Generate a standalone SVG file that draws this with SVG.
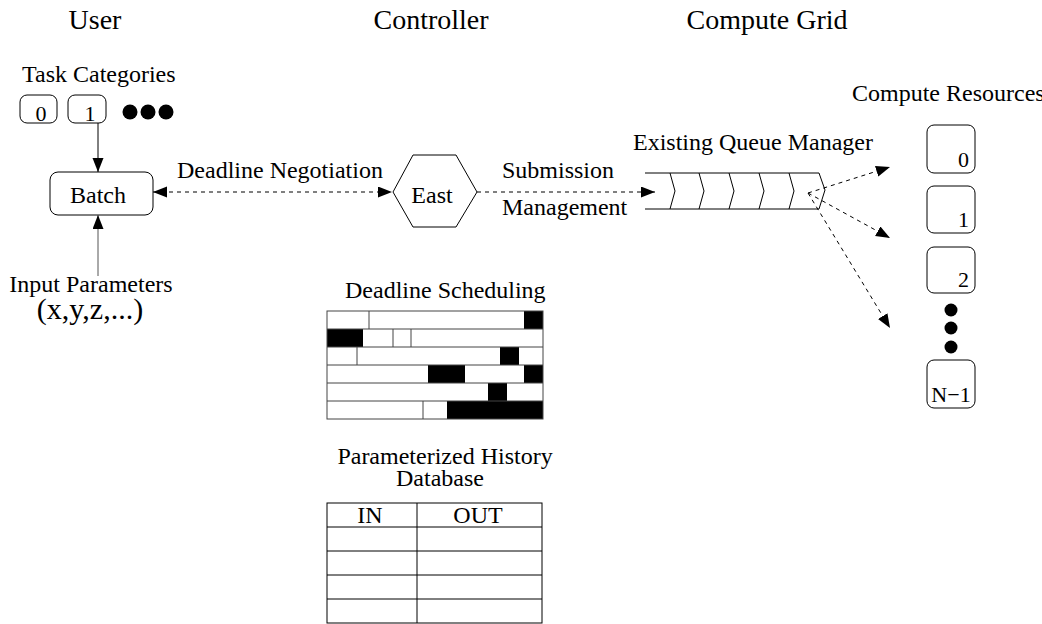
<svg xmlns="http://www.w3.org/2000/svg" width="1042" height="624" viewBox="0 0 1042 624">
<style>
text{font-family:"Liberation Serif","Times New Roman",serif;fill:#000}
.h{font-size:28px}
.t{font-size:24px}
.s{font-size:22px}
.box{fill:#fff;stroke:#000;stroke-width:1}
.ln{fill:none;stroke:#000;stroke-width:1}
.dash{fill:none;stroke:#000;stroke-width:1;stroke-dasharray:4 4}
.g{fill:none;stroke:#444;stroke-width:1}
.blk{fill:#000;stroke:none}
</style>
<defs>
<marker id="ah" markerUnits="userSpaceOnUse" markerWidth="15" markerHeight="12" refX="14" refY="5.5" orient="auto-start-reverse" viewBox="0 0 15 12">
<path d="M0,0 L14,5.5 L0,11 z" fill="#000" stroke="none"/>
</marker>
</defs>

<g id="headers">
<text class="h" x="95" y="29" text-anchor="middle">User</text>
<text class="h" x="431" y="29" text-anchor="middle">Controller</text>
<text class="h" x="767" y="29" text-anchor="middle">Compute Grid</text>
</g>

<g id="task-categories">
<text class="t" x="22" y="82">Task Categories</text>
<rect class="box" x="20" y="95" width="37" height="28" rx="7"/>
<text class="s" x="41" y="121" text-anchor="middle">0</text>
<rect class="box" x="68" y="95" width="38" height="28" rx="7"/>
<text class="s" x="90" y="121" text-anchor="middle">1</text>
<circle class="blk" cx="130" cy="112" r="7.5"/>
<circle class="blk" cx="148" cy="112" r="7.5"/>
<circle class="blk" cx="166" cy="112" r="7.5"/>
</g>

<g id="batch">
<rect class="box" x="50" y="172" width="103" height="43" rx="8"/>
<text class="t" x="98" y="203" text-anchor="middle">Batch</text>
</g>

<g id="input-parameters">
<text class="t" x="91" y="292" text-anchor="middle">Input Parameters</text>
<text x="90" y="319" text-anchor="middle" style="font-size:30px">(x,y,z,...)</text>
</g>

<g id="east">
<polygon class="box" points="393,192 413,155 456,155 477,192 456,227 413,227"/>
<text class="t" x="432" y="203" text-anchor="middle">East</text>
</g>

<g id="queue-manager">
<text class="t" x="633" y="150">Existing Queue Manager</text>
<path class="ln" d="M645,173 H819 L825,190 L819,209 H645"/>
<path class="ln" d="M670,173 L675,191 L670,209 M699,173 L704,191 L699,209 M729,173 L734,191 L729,209 M759,173 L764,191 L759,209 M789,173 L794,191 L789,209"/>
</g>

<g id="compute-resources">
<text class="t" x="852" y="101">Compute Resources</text>
<rect class="box" x="927" y="125" width="48" height="48" rx="7"/>
<text class="s" x="969" y="167" text-anchor="end">0</text>
<rect class="box" x="927" y="186" width="48" height="47" rx="7"/>
<text class="s" x="969" y="227" text-anchor="end">1</text>
<rect class="box" x="927" y="247" width="48" height="46" rx="7"/>
<text class="s" x="969" y="287" text-anchor="end">2</text>
<circle class="blk" cx="951" cy="310" r="6.5"/>
<circle class="blk" cx="951" cy="328" r="6.5"/>
<circle class="blk" cx="951" cy="347" r="6.5"/>
<rect class="box" x="927" y="360" width="48" height="48" rx="7"/>
<text class="s" x="951" y="402" text-anchor="middle">N−1</text>
</g>

<g id="deadline-scheduling">
<text class="t" x="345" y="298">Deadline Scheduling</text>
<rect class="blk" x="524" y="311" width="19" height="18"/>
<rect class="blk" x="327" y="329" width="36" height="18"/>
<rect class="blk" x="500" y="347" width="19" height="18"/>
<rect class="blk" x="428" y="365" width="37" height="18"/>
<rect class="blk" x="524" y="365" width="19" height="18"/>
<rect class="blk" x="488" y="383" width="19" height="18"/>
<rect class="blk" x="447" y="401" width="96" height="18"/>
<rect class="g" x="327" y="311" width="216" height="108"/>
<path class="g" d="M327,329 H543 M327,347 H543 M327,365 H543 M327,383 H543 M327,401 H543"/>
<path class="g" d="M369,311 V329 M393,329 V347 M411,329 V347 M357,347 V365 M423,401 V419"/>
</g>

<g id="history-database">
<text class="t" x="445" y="464" text-anchor="middle">Parameterized History</text>
<text class="t" x="440" y="486" text-anchor="middle">Database</text>
<rect class="ln" x="327" y="503" width="215" height="120"/>
<path class="ln" d="M327,527 H542 M327,551 H542 M327,575 H542 M327,599 H542 M417,503 V623"/>
<text class="t" x="370" y="523" text-anchor="middle">IN</text>
<text class="t" x="478" y="523" text-anchor="middle">OUT</text>
</g>

<g id="connectors">
<line class="ln" x1="98" y1="123" x2="98" y2="172" marker-end="url(#ah)"/>
<line class="ln" x1="98" y1="276" x2="98" y2="215" marker-end="url(#ah)" style="stroke:#555"/>
<line class="dash" x1="153" y1="192" x2="392" y2="192" marker-start="url(#ah)" marker-end="url(#ah)"/>
<text class="t" x="177" y="178">Deadline Negotiation</text>
<line class="dash" x1="477" y1="192" x2="655" y2="192" marker-end="url(#ah)"/>
<text class="t" x="502" y="178">Submission</text>
<text class="t" x="502" y="215">Management</text>
<line class="dash" x1="808" y1="193" x2="890" y2="167" marker-end="url(#ah)"/>
<line class="dash" x1="808" y1="193" x2="890" y2="238" marker-end="url(#ah)"/>
<line class="dash" x1="808" y1="193" x2="890" y2="328" marker-end="url(#ah)"/>
</g>
</svg>
